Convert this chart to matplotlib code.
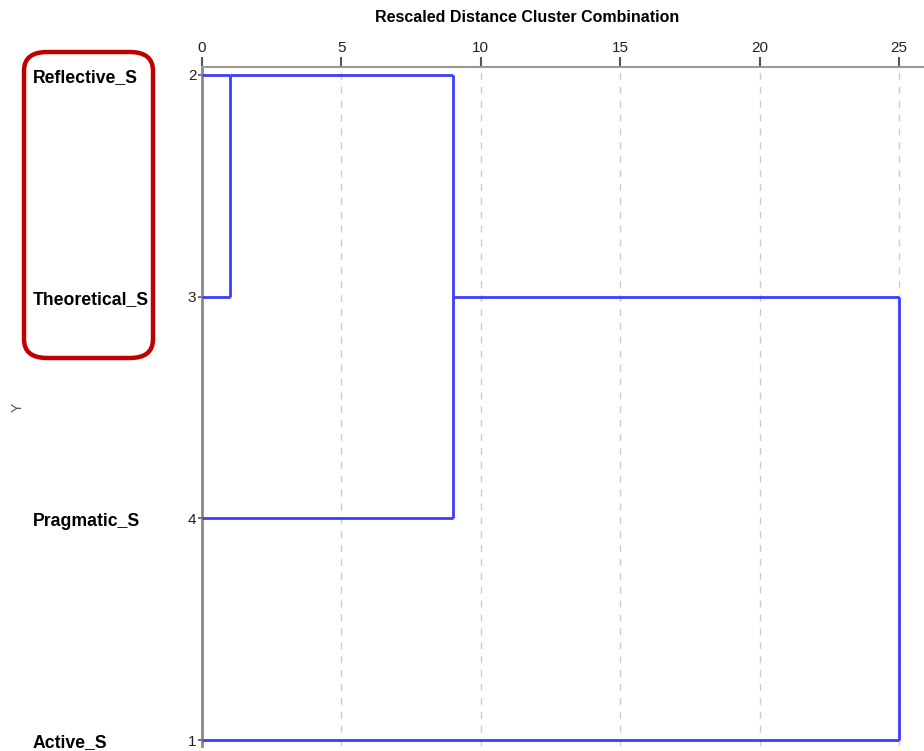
import matplotlib
matplotlib.use("Agg")
import matplotlib.pyplot as plt
from matplotlib.patches import FancyBboxPatch

# ---- data ----
leaf_labels = ["Reflective_S", "Theoretical_S", "Pragmatic_S", "Active_S"]
leaf_ids = ["2", "3", "4", "1"]
# merges: (child A position, child B position, rescaled distance, resulting position)
merge_a = [0, 0, 1]
merge_b = [1, 2, 3]
merge_h = [1.0, 9.0, 25.0]
merge_pos = [0, 1, 1]
x_ticks = [0, 5, 10, 15, 20, 25]

plt.rcParams["font.family"] = ["Liberation Sans", "DejaVu Sans"]

W, H = 924, 751
fig = plt.figure(figsize=(W / 100, H / 100), dpi=100)
left_px, right_px, top_px, bot_px = 202, 924, 67, 746
ax = fig.add_axes([left_px / W, 1 - bot_px / H, (right_px - left_px) / W, (bot_px - top_px) / H])

px_per_unit = (899 - 202) / 25.0
ax.set_xlim(0, (right_px - left_px) / px_per_unit)
row_px = [75, 297, 518, 740]
sp = (row_px[-1] - row_px[0]) / 3
ax.set_ylim((bot_px - row_px[0]) / sp, (top_px - row_px[0]) / sp)

blue = "#3c3cff"
lw = 2.0
# height at which each position's current cluster is represented
cur_h = {i: 0.0 for i in range(len(leaf_labels))}
for a, b, h, p in zip(merge_a, merge_b, merge_h, merge_pos):
    ax.plot([cur_h[a], h], [a, a], color=blue, lw=lw, solid_capstyle="butt", zorder=3)
    ax.plot([cur_h[b], h], [b, b], color=blue, lw=lw, solid_capstyle="butt", zorder=3)
    ax.plot([h, h], [a, b], color=blue, lw=lw, solid_capstyle="butt", zorder=3)
    cur_h[a] = h
    cur_h[b] = h
    cur_h[p] = h

for t in x_ticks[1:]:
    ax.axvline(t, color="#cccccc", lw=1.0, ls=(0, (5, 5)), zorder=1)

ax.xaxis.tick_top()
ax.set_xticks(x_ticks)
ax.set_xticklabels([str(t) for t in x_ticks], fontsize=11, color="#222222")
ax.tick_params(axis="x", length=7, width=1.5, color="#555555", pad=2)
ax.set_yticks(range(len(leaf_ids)))
ax.set_yticklabels(leaf_ids, fontsize=11, color="#222222")
ax.tick_params(axis="y", length=3, width=1.2, color="#555555", pad=1)

for s in ["right", "bottom"]:
    ax.spines[s].set_visible(False)
ax.spines["top"].set_color("#999999")
ax.spines["top"].set_linewidth(1.5)
ax.spines["left"].set_color("#888888")
ax.spines["left"].set_linewidth(2.0)

for lab, r in zip(leaf_labels, row_px):
    fig.text(33 / W, 1 - (r + 3) / H, lab, fontsize=12.7, fontweight="bold",
             ha="left", va="center")

fig.text(527 / W, 1 - 17 / H, "Rescaled Distance Cluster Combination", fontsize=11.5,
         fontweight="bold", ha="center", va="center")
fig.text(18 / W, 1 - 407 / H, "Y", fontsize=10, color="#555555", rotation=90,
         ha="center", va="center")

box = FancyBboxPatch((24 / W, 1 - 358 / H), (153 - 24) / W, (358 - 52) / H,
                     boxstyle="round,pad=0,rounding_size=0.025",
                     transform=fig.transFigure, fill=False, edgecolor="#c00000", lw=3.2)
fig.patches.append(box)

fig.savefig("out.png", dpi=100)
